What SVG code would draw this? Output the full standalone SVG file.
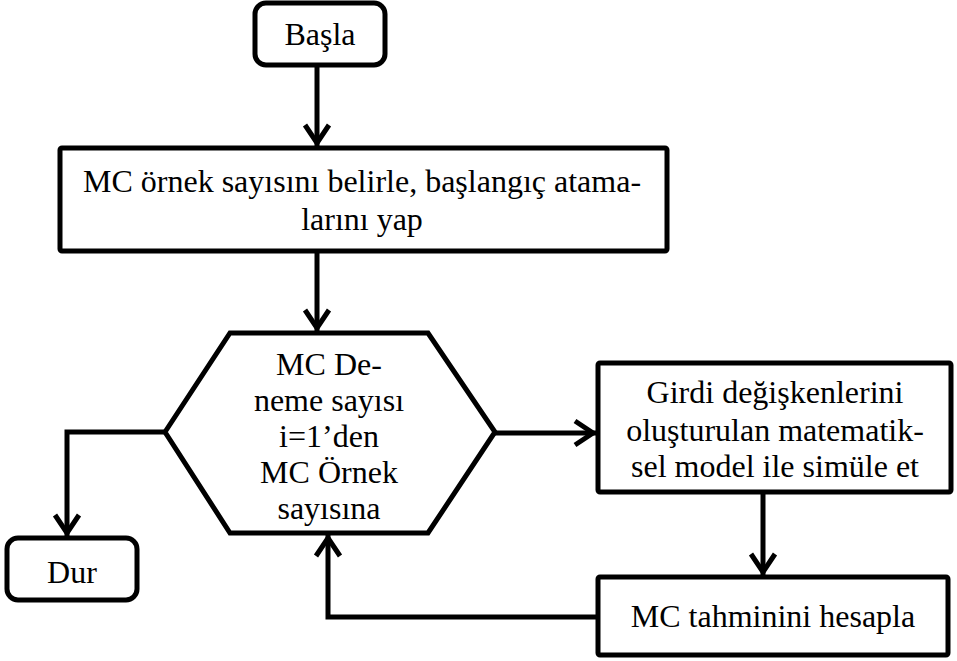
<svg xmlns="http://www.w3.org/2000/svg" width="957" height="661" viewBox="0 0 957 661">
  <style>
    .shape { fill: #ffffff; stroke: #000000; stroke-width: 5; }
    .conn { fill: none; stroke: #000000; stroke-width: 5; }
    .t { font-family: "Liberation Serif", "Times New Roman", serif; font-size: 32px; fill: #000000; text-anchor: middle; }
  </style>
  <defs>
    <marker id="arrow" viewBox="-22 -16 30 32" markerUnits="userSpaceOnUse" markerWidth="30" markerHeight="32" refX="3" refY="0" orient="auto">
      <path d="M -18,-12 L 0,0 L -18,12" fill="none" stroke="#000000" stroke-width="5"/>
    </marker>
  </defs>
  <rect width="957" height="661" fill="#ffffff"/>

  <g id="connectors">
    <line class="conn" x1="317" y1="65" x2="317" y2="146" marker-end="url(#arrow)"/>
    <line class="conn" x1="317" y1="251" x2="317" y2="331" marker-end="url(#arrow)"/>
    <line class="conn" x1="495" y1="433" x2="596" y2="433" marker-end="url(#arrow)"/>
    <polyline class="conn" points="165,432 67,432 67,536" marker-end="url(#arrow)"/>
    <line class="conn" x1="763" y1="492" x2="763" y2="575" marker-end="url(#arrow)"/>
    <polyline class="conn" points="598,617 328,617 328,535" marker-end="url(#arrow)"/>
  </g>

  <g id="basla">
    <rect class="shape" x="255" y="3" width="130" height="62" rx="11"/>
    <text class="t" x="320" y="45">Başla</text>
  </g>

  <g id="init">
    <rect class="shape" x="60" y="148" width="607" height="103" rx="2"/>
    <text class="t" x="362" y="192">MC örnek sayısını belirle, başlangıç atama-</text>
    <text class="t" x="362" y="230">larını yap</text>
  </g>

  <g id="loop">
    <polygon class="shape" points="165,432 230,333 428,333 495,432 428,533 230,533"/>
    <text class="t" x="329" y="375">MC De-</text>
    <text class="t" x="329" y="411">neme sayısı</text>
    <text class="t" x="329" y="447">i=1’den</text>
    <text class="t" x="329" y="483">MC Örnek</text>
    <text class="t" x="329" y="519">sayısına</text>
  </g>

  <g id="simulate">
    <rect class="shape" x="598" y="363" width="353" height="129" rx="2"/>
    <text class="t" x="775" y="403">Girdi değişkenlerini</text>
    <text class="t" x="775" y="441">oluşturulan matematik-</text>
    <text class="t" x="775" y="477">sel model ile simüle et</text>
  </g>

  <g id="estimate">
    <rect class="shape" x="598" y="577" width="350" height="78" rx="2"/>
    <text class="t" x="773" y="627">MC tahminini hesapla</text>
  </g>

  <g id="dur">
    <rect class="shape" x="7" y="538" width="130" height="62" rx="11"/>
    <text class="t" x="72" y="583">Dur</text>
  </g>
</svg>
